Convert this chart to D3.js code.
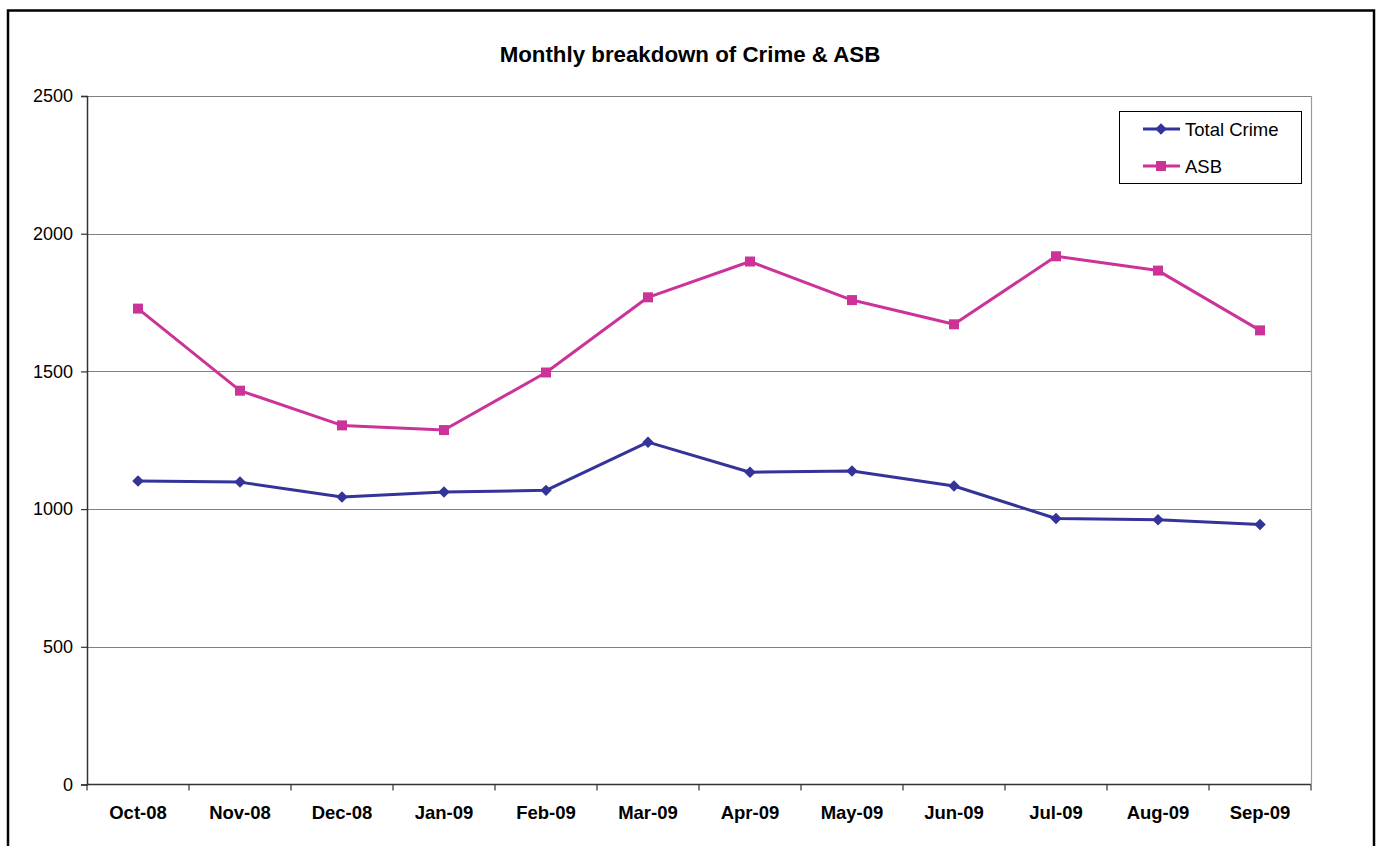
<!DOCTYPE html>
<html>
<head>
<meta charset="utf-8">
<script src="https://cdn.jsdelivr.net/npm/d3@7"></script>
<style>
  html, body { margin: 0; padding: 0; background: #fff; }
  svg { display: block; font-family: Arial, "Liberation Sans", sans-serif; }
</style>
</head>
<body>
<svg id="chart" width="1379" height="846"></svg>
<script>
// Monthly figures, October 2008 to September 2009
const months = ["Oct-08", "Nov-08", "Dec-08", "Jan-09", "Feb-09", "Mar-09",
                "Apr-09", "May-09", "Jun-09", "Jul-09", "Aug-09", "Sep-09"];
const totalCrime = [1102, 1098, 1044, 1062, 1068, 1243, 1134, 1138, 1084, 966, 961, 944];
const asb = [1728, 1430, 1304, 1287, 1496, 1769, 1899, 1759, 1671, 1918, 1866, 1649];
const yTicks = [0, 500, 1000, 1500, 2000, 2500];

// Diamond markers are squares turned by 45 degrees
const seriesList = [
  { name: "Total Crime", values: totalCrime, color: "#333399", size: 66, rotate: 45 },
  { name: "ASB", values: asb, color: "#CC3399", size: 100, rotate: 0 }
];

const svg = d3.select("#chart");
const plot = { left: 87, right: 1311, top: 96, bottom: 784.5 };

// Outer chart frame
svg.append("rect")
  .attr("x", 8).attr("y", 10.5)
  .attr("width", 1366).attr("height", 850)
  .attr("fill", "#fff").attr("stroke", "#000").attr("stroke-width", 2.5);

// Title
svg.append("text")
  .attr("x", 690).attr("y", 62)
  .attr("text-anchor", "middle")
  .attr("font-size", 22.3).attr("font-weight", "bold")
  .text("Monthly breakdown of Crime & ASB");

const x = d3.scaleBand().domain(months).range([plot.left, plot.right]);
const y = d3.scaleLinear().domain([0, 2500]).range([plot.bottom, plot.top]);

// Horizontal gridlines
svg.append("g").selectAll("line")
  .data(yTicks.filter(t => t > 0))
  .join("line")
  .attr("x1", plot.left).attr("x2", plot.right)
  .attr("y1", d => Math.round(y(d)) + 0.5).attr("y2", d => Math.round(y(d)) + 0.5)
  .attr("stroke", "#808080").attr("stroke-width", 1.2);

// Right edge of plot area
svg.append("line")
  .attr("x1", plot.right + 0.5).attr("x2", plot.right + 0.5)
  .attr("y1", plot.top).attr("y2", plot.bottom)
  .attr("stroke", "#9a9a9a").attr("stroke-width", 1.2);

// Y axis
const yAxis = svg.append("g")
  .attr("transform", `translate(${plot.left},0)`)
  .call(d3.axisLeft(y).tickValues(yTicks).tickSize(6).tickPadding(8).tickFormat(d3.format("d")));
yAxis.select(".domain").attr("stroke", "#333").attr("stroke-width", 1.5);
yAxis.selectAll(".tick line").attr("stroke", "#333").attr("stroke-width", 1.2);
yAxis.selectAll(".tick text")
  .attr("font-size", 18).attr("font-family", "Arial, 'Liberation Sans', sans-serif").attr("fill", "#000");

// X axis with ticks between categories
const xAxisG = svg.append("g").attr("transform", `translate(0,${plot.bottom})`);
xAxisG.append("line")
  .attr("x1", plot.left).attr("x2", plot.right)
  .attr("y1", 0).attr("y2", 0)
  .attr("stroke", "#333").attr("stroke-width", 1.5);
const boundaries = months.map(m => x(m)).concat([plot.right]);
xAxisG.selectAll("line.tk")
  .data(boundaries)
  .join("line").attr("class", "tk")
  .attr("x1", d => d).attr("x2", d => d)
  .attr("y1", 0).attr("y2", 6)
  .attr("stroke", "#333").attr("stroke-width", 1.2);
xAxisG.selectAll("text")
  .data(months)
  .join("text")
  .attr("x", d => x(d) + x.bandwidth() / 2)
  .attr("y", 34.5)
  .attr("text-anchor", "middle")
  .attr("font-size", 18.5).attr("font-weight", "bold")
  .text(d => d);

// Series lines and markers
const line = d3.line()
  .x((d, i) => x(months[i]) + x.bandwidth() / 2)
  .y(d => y(d));

seriesList.forEach(s => {
  const g = svg.append("g");
  g.append("path")
    .datum(s.values)
    .attr("d", line)
    .attr("fill", "none")
    .attr("stroke", s.color)
    .attr("stroke-width", 3)
    .attr("stroke-linejoin", "round");
  g.selectAll("path.mk")
    .data(s.values)
    .join("path").attr("class", "mk")
    .attr("transform", (d, i) => `translate(${x(months[i]) + x.bandwidth() / 2},${y(d)}) rotate(${s.rotate})`)
    .attr("d", d3.symbol().type(d3.symbolSquare).size(s.size))
    .attr("fill", s.color);
});

// Legend
const legend = svg.append("g");
legend.append("rect")
  .attr("x", 1119.5).attr("y", 111.5)
  .attr("width", 182).attr("height", 72)
  .attr("fill", "#fff").attr("stroke", "#000").attr("stroke-width", 1);
seriesList.forEach((s, i) => {
  const cy = 129 + i * 37;
  legend.append("line")
    .attr("x1", 1143).attr("x2", 1180)
    .attr("y1", cy).attr("y2", cy)
    .attr("stroke", s.color).attr("stroke-width", 3);
  legend.append("path")
    .attr("transform", `translate(1161,${cy}) rotate(${s.rotate})`)
    .attr("d", d3.symbol().type(d3.symbolSquare).size(s.size))
    .attr("fill", s.color);
  legend.append("text")
    .attr("x", 1185).attr("y", cy + 6.5)
    .attr("font-size", 18.5)
    .text(s.name);
});
</script>
</body>
</html>
